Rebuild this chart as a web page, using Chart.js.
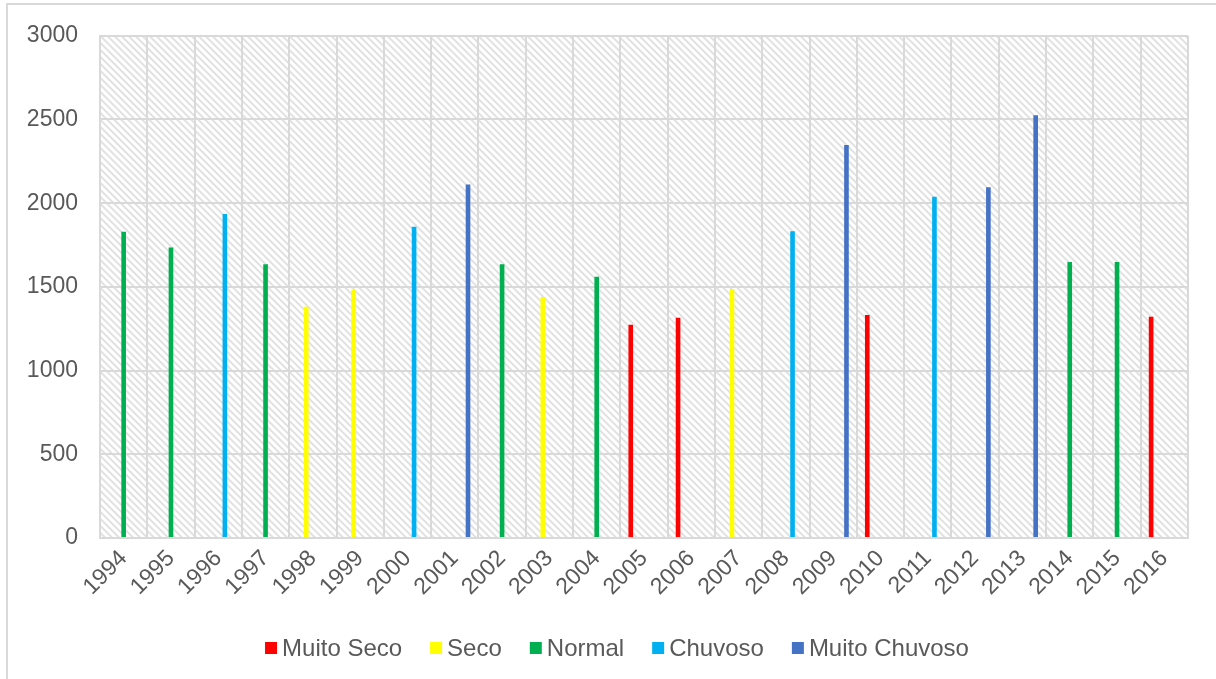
<!DOCTYPE html>
<html>
<head>
<meta charset="utf-8">
<script src="https://cdn.jsdelivr.net/npm/chart.js@4.4.1/dist/chart.umd.min.js"></script>
<style>
  html, body { margin: 0; padding: 0; background: #ffffff; }
  #wrap { position: relative; width: 1216px; height: 679px; overflow: hidden; }
  #frame { position: absolute; left: 6px; top: 3px; width: 1300px; height: 800px;
           border-left: 2px solid #d9d9d9; border-top: 2px solid #d9d9d9; box-sizing: border-box; }
  canvas { position: absolute; left: 0; top: 0; }
</style>
</head>
<body>
<div id="wrap">
  <div id="frame"></div>
  <canvas id="chart" width="1216" height="679"></canvas>
</div>
<script>
// Annual rainfall per year, grouped by class (one class per year)
const years = ['1994','1995','1996','1997','1998','1999','2000','2001','2002','2003','2004',
               '2005','2006','2007','2008','2009','2010','2011','2012','2013','2014','2015','2016'];

const muitoSeco    = [null,null,null,null,null,null,null,null,null,null,null,1274,1315,null,null,null,1332,null,null,null,null,null,1321];
const seco         = [null,null,null,null,1381,1482,null,null,null,1439,null,null,null,1488,null,null,null,null,null,null,null,null,null];
const normal       = [1829,1736,null,1635,null,null,null,null,1635,null,1560,null,null,null,null,null,null,null,null,null,1649,1649,null];
const chuvoso      = [null,null,1935,null,null,null,1859,null,null,null,null,null,null,null,1833,null,null,2038,null,null,null,null,null];
const muitoChuvoso = [null,null,null,null,null,null,null,2111,null,null,null,null,null,null,null,2347,null,null,2095,2525,null,null,null];

const seriesNames  = ['Muito Seco','Seco','Normal','Chuvoso','Muito Chuvoso'];
const seriesColors = ['#FF0000','#FFFF00','#00B050','#00B0F0','#4472C4'];
const seriesData   = [muitoSeco, seco, normal, chuvoso, muitoChuvoso];

const yTicks = [0, 500, 1000, 1500, 2000, 2500, 3000];

const FONT = '"Liberation Sans", Arial, sans-serif';
const TEXT = '#595959';
const GRID = '#d9d9d9';

// Diagonal hatch used as the plot-area fill
function makeHatch() {
  const s = 7;
  const c = document.createElement('canvas');
  c.width = s; c.height = s;
  const g = c.getContext('2d');
  const img = g.createImageData(s, s);
  for (let y = 0; y < s; y++) {
    for (let x = 0; x < s; x++) {
      const d = (((x - y) % s) + s) % s;
      const dist = Math.min(Math.abs(d - 1.5), s - Math.abs(d - 1.5));
      const t = Math.max(0, 1 - dist / 2.2);
      const v = Math.round(255 - t * (255 - 216));
      const i = (y * s + x) * 4;
      img.data[i] = v; img.data[i + 1] = v; img.data[i + 2] = v; img.data[i + 3] = 255;
    }
  }
  g.putImageData(img, 0, 0);
  return c;
}

const hatchPlugin = {
  id: 'hatch',
  beforeDraw(chart) {
    const { ctx, chartArea: a } = chart;
    ctx.save();
    ctx.fillStyle = ctx.createPattern(makeHatch(), 'repeat');
    ctx.fillRect(a.left, a.top, a.right - a.left, a.bottom - a.top);
    ctx.restore();
  }
};

// Legend row drawn under the axis labels
const legendPlugin = {
  id: 'bottomLegend',
  afterDraw(chart) {
    const ctx = chart.ctx;
    ctx.save();
    ctx.font = '24px ' + FONT;
    const box = 12, gapText = 5, gapItem = 28;
    const widths = seriesNames.map(n => ctx.measureText(n).width);
    let total = 0;
    widths.forEach((w, i) => { total += box + gapText + w + (i ? gapItem : 0); });
    let x = 617 - total / 2;
    const yc = 648;
    ctx.textBaseline = 'middle';
    ctx.textAlign = 'left';
    seriesNames.forEach((n, i) => {
      ctx.fillStyle = seriesColors[i];
      ctx.fillRect(x, yc - box / 2, box, box);
      ctx.fillStyle = TEXT;
      ctx.fillText(n, x + box + gapText, yc + 1);
      x += box + gapText + widths[i] + gapItem;
    });
    ctx.restore();
  }
};

new Chart(document.getElementById('chart'), {
  type: 'bar',
  data: {
    labels: years,
    datasets: seriesData.map((d, i) => ({
      label: seriesNames[i],
      data: d,
      backgroundColor: seriesColors[i],
      borderWidth: 0,
      categoryPercentage: 0.7,
      barPercentage: 0.7
    }))
  },
  options: {
    responsive: false,
    animation: false,
    devicePixelRatio: 1,
    layout: { padding: { left: 0, right: 28, top: 34, bottom: 0 } },
    plugins: { legend: { display: false }, tooltip: { enabled: false } },
    scales: {
      x: {
        grid: { color: GRID, lineWidth: 2, offset: true, drawTicks: false },
        border: { color: GRID, width: 2 },
        ticks: {
          color: TEXT, font: { family: FONT, size: 23 },
          minRotation: 45, maxRotation: 45, padding: 7, autoSkip: false
        },
        afterFit(scale) { scale.height = 141; }
      },
      y: {
        min: 0, max: 3000,
        afterBuildTicks(scale) { scale.ticks = yTicks.map(v => ({ value: v })); },
        grid: { color: GRID, lineWidth: 2, drawTicks: false },
        border: { color: GRID, width: 2 },
        ticks: {
          color: TEXT, font: { family: FONT, size: 23 }, padding: 22,
          callback: v => String(v)
        },
        afterFit(scale) { scale.width = 100; }
      }
    }
  },
  plugins: [hatchPlugin, legendPlugin]
});
</script>
</body>
</html>
